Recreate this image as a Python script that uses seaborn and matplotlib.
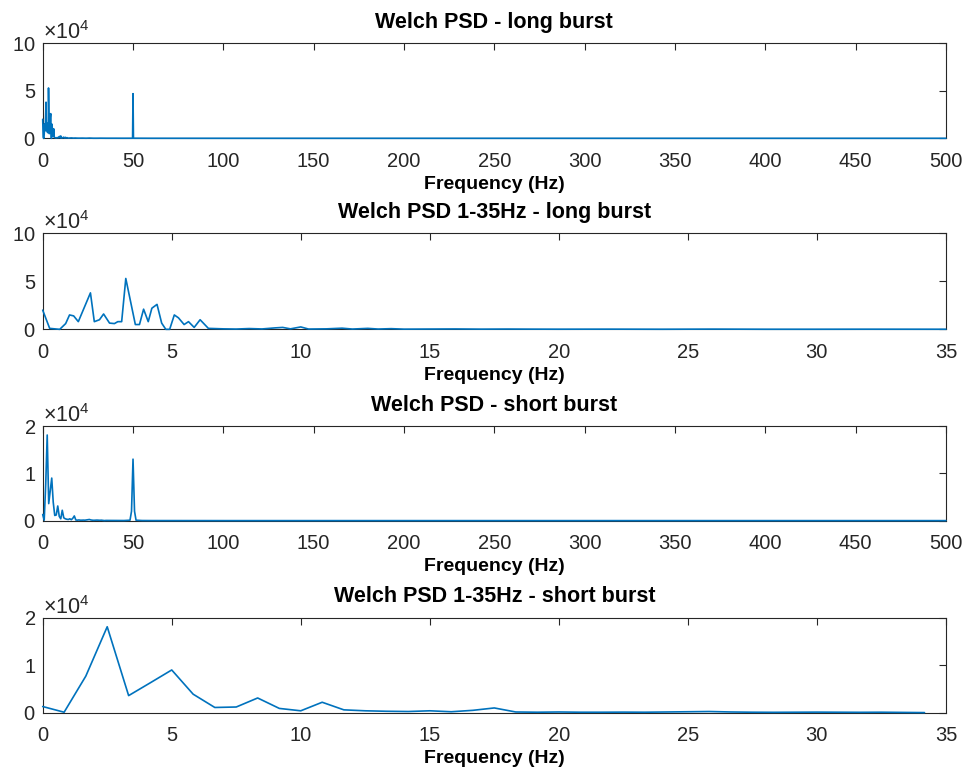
import numpy as np
import pandas as pd
import matplotlib
matplotlib.use("Agg")
import matplotlib.pyplot as plt
from matplotlib.ticker import ScalarFormatter
import seaborn as sns

# ------------------------------------------------------------
# Welch PSD values
# ------------------------------------------------------------
# long burst, 0-35 Hz
long_lo_freq = [0.0, 0.27, 0.66, 0.89, 1.04, 1.2, 1.38, 1.85, 2.0, 2.2, 2.36,
                2.59, 2.78, 2.91, 3.06, 3.22, 3.59, 3.75, 3.91, 4.09, 4.23,
                4.43, 4.61, 4.77, 4.92, 5.1, 5.26, 5.48, 5.65, 5.87, 6.1,
                6.42, 7.0, 7.5, 8.0, 8.5, 9.0, 9.3, 9.6, 10.0, 10.3, 11.0,
                11.6, 12.0, 12.6, 13.0, 13.5, 14.0, 15.0, 16.0, 17.0, 18.0,
                19.0, 20.0, 22.0, 24.0, 26.0, 28.0, 30.0, 32.0, 35.0]
long_lo_psd = [20000, 1000, 0, 6000, 15000, 14000, 8000, 38000, 8000, 10000,
               16000, 6500, 6000, 8000, 8000, 53000, 5000, 5000, 21000, 8000,
               22000, 26000, 6500, 0, 0, 15000, 12000, 5000, 8000, 2000,
               10000, 1000, 500, 300, 800, 400, 1500, 2000, 500, 2500, 300,
               500, 1200, 300, 1000, 300, 700, 200, 300, 400, 200, 300, 200,
               150, 200, 100, 250, 100, 100, 150, 100]

# long burst, above 35 Hz (mains line at 50 Hz)
long_hi_freq = [40.0, 45.0, 49.76, 50.0, 50.24, 60.0, 100.0, 150.0, 200.0,
                250.0, 300.0, 350.0, 400.0, 450.0, 500.0]
long_hi_psd = [100, 80, 100, 47000, 100, 50, 30, 20, 20, 20, 20, 20, 20, 20, 20]

# short burst, 0-35 Hz
short_lo_freq = [0.0, 0.83, 1.67, 2.5, 3.33, 4.17, 5.0, 5.83, 6.67, 7.5, 8.33,
                 9.17, 10.0, 10.83, 11.67, 12.5, 13.33, 14.17, 15.0, 15.83,
                 16.67, 17.5, 18.33, 19.17, 20.0, 20.83, 21.67, 22.5, 23.33,
                 24.17, 25.0, 25.83, 26.67, 27.5, 28.33, 29.17, 30.0, 30.83,
                 31.67, 32.5, 33.33, 34.17]
short_lo_psd = [1300, 100, 7700, 18100, 3600, 6300, 9000, 3900, 1100, 1200,
                3100, 900, 400, 2200, 600, 400, 300, 250, 400, 200, 500, 1000,
                150, 100, 150, 100, 100, 120, 100, 150, 200, 250, 150, 100,
                80, 100, 120, 100, 80, 100, 60, 20]

# short burst, above 35 Hz
short_hi_freq = [35.0, 40.0, 45.0, 48.33, 49.17, 50.0, 50.83, 51.67, 55.0,
                 60.0, 100.0, 150.0, 200.0, 250.0, 300.0, 350.0, 400.0,
                 450.0, 500.0]
short_hi_psd = [50, 40, 30, 100, 2000, 13000, 2000, 100, 30, 20, 10, 10, 10,
                10, 10, 10, 10, 10, 10]

titles = ["Welch PSD - long burst", "Welch PSD 1-35Hz - long burst",
          "Welch PSD - short burst", "Welch PSD 1-35Hz - short burst"]

LINE = "#0072BD"
AX = "#262626"

sns.set_theme(style="white")
plt.rcParams["font.family"] = ["Liberation Sans", "DejaVu Sans"]
plt.rcParams["mathtext.fontset"] = "custom"
plt.rcParams["mathtext.rm"] = "Liberation Sans"
plt.rcParams["mathtext.it"] = "Liberation Sans:italic"
plt.rcParams["mathtext.bf"] = "Liberation Sans:bold"

panels = [
    (long_lo_freq + long_hi_freq, long_lo_psd + long_hi_psd, 500, 50, 1e5),
    (long_lo_freq, long_lo_psd, 35, 5, 1e5),
    (short_lo_freq + short_hi_freq, short_lo_psd + short_hi_psd, 500, 50, 2e4),
    (short_lo_freq, short_lo_psd, 35, 5, 2e4),
]

# axes boxes in figure fractions (left, bottom, width, height)
boxes = [[0.0442, 0.8213, 0.935, 0.1227],
         [0.0442, 0.5745, 0.935, 0.1240],
         [0.0442, 0.3273, 0.935, 0.1223],
         [0.0442, 0.0792, 0.935, 0.1227]]

fig = plt.figure(figsize=(9.66, 7.74), dpi=100)

for box, title, (fx, py, xmax, xstep, ymax) in zip(boxes, titles, panels):
    ax = fig.add_axes(box)
    df = pd.DataFrame({"freq": fx, "psd": py})
    sns.lineplot(data=df, x="freq", y="psd", ax=ax, color=LINE,
                 linewidth=1.2, clip_on=False, zorder=3)
    ax.set_xlim(0, xmax)
    ax.set_ylim(0, ymax)
    ax.set_xticks(np.arange(0, xmax + 1, xstep))
    ax.set_yticks([0, ymax / 2, ymax])

    fmt = ScalarFormatter(useMathText=True)
    fmt.set_powerlimits((4, 4))
    ax.yaxis.set_major_formatter(fmt)

    ax.tick_params(direction="in", top=True, right=True, length=5, width=0.8,
                   color=AX, labelcolor=AX, labelsize=14.5)
    ax.tick_params(axis="x", pad=9.5)
    ax.tick_params(axis="y", pad=5)
    for s in ax.spines.values():
        s.set_visible(True)
        s.set_color(AX)
        s.set_linewidth(0.8)

    ax.yaxis.get_offset_text().set_fontsize(15.5)
    ax.yaxis.get_offset_text().set_color(AX)

    ax.set_title(title, fontsize=15.5, fontweight="bold", color="black",
                 y=1.0, pad=11)
    ax.set_xlabel("Frequency (Hz)", fontsize=14, fontweight="bold",
                  color="black", labelpad=4)
    ax.set_ylabel("")

fig.savefig("out.png", dpi=100)
